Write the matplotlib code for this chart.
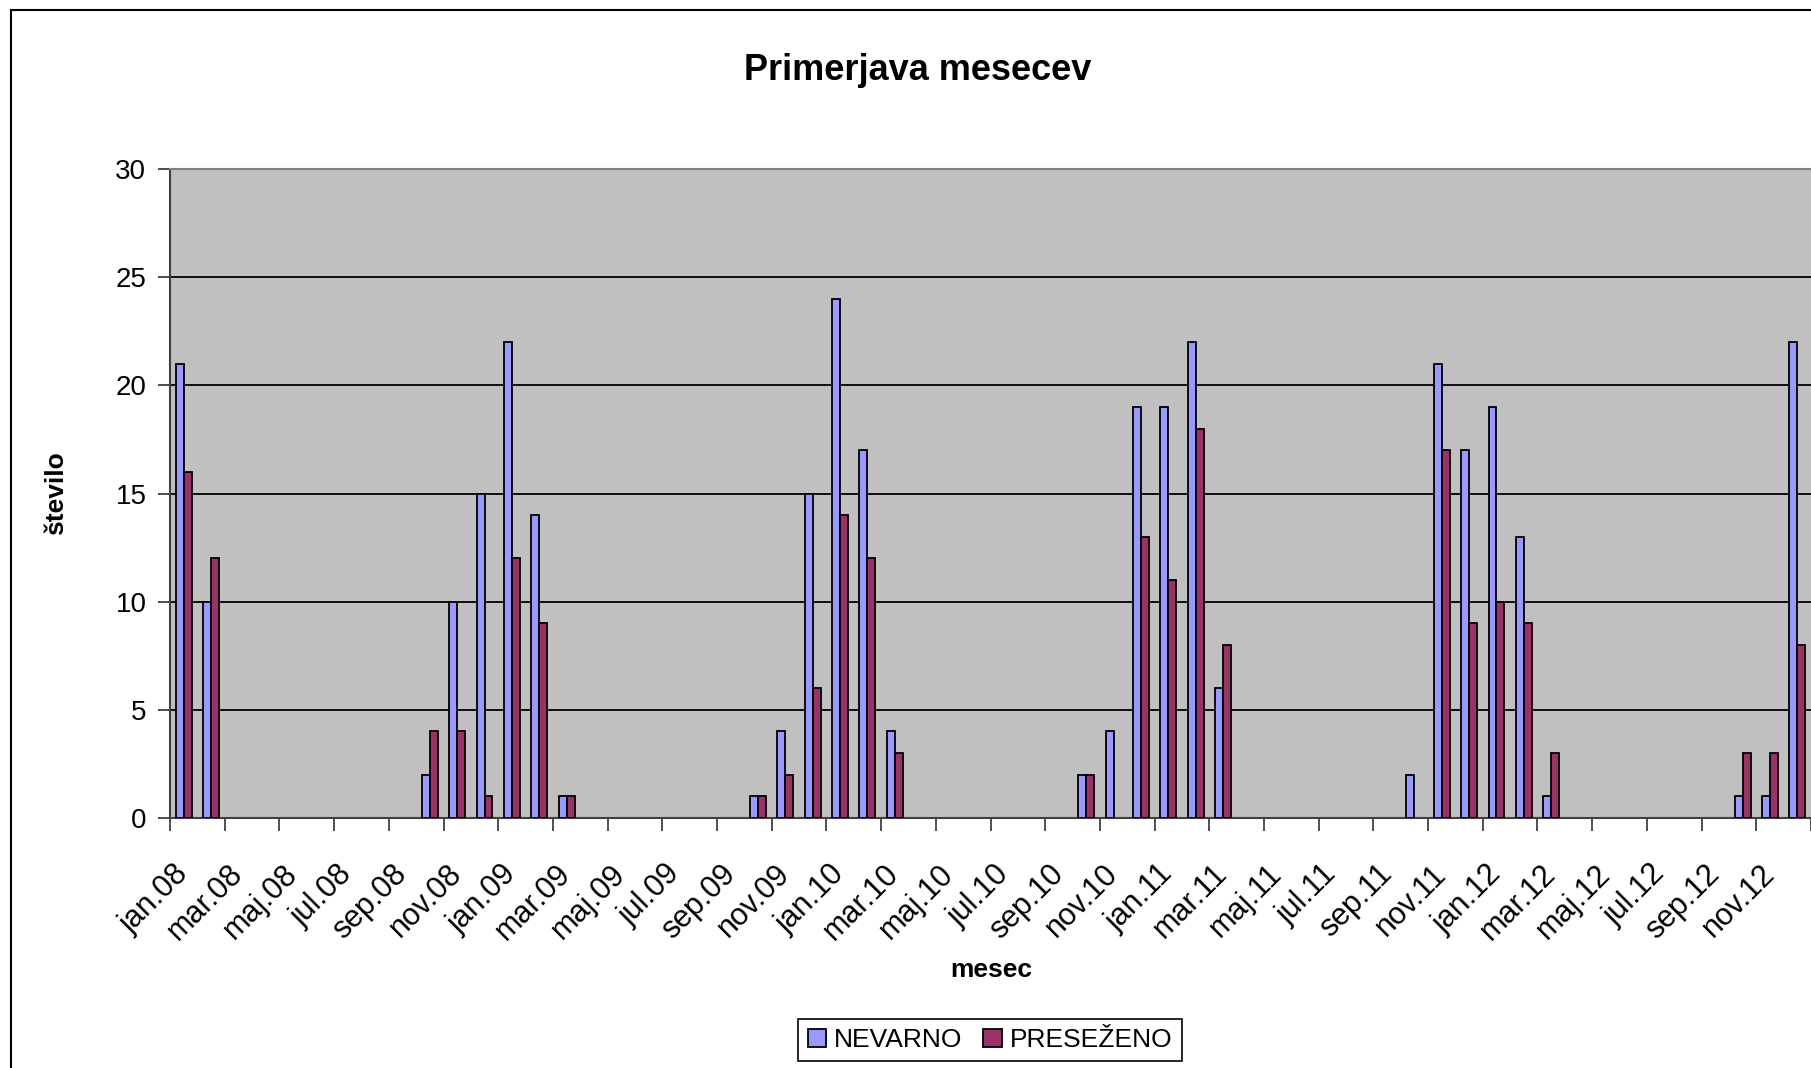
import numpy as np
import matplotlib
matplotlib.use("Agg")
import matplotlib.pyplot as plt
from matplotlib.patches import Rectangle

plt.rcParams['font.family'] = ['Liberation Sans', 'DejaVu Sans']

month_names = ['jan', 'feb', 'mar', 'apr', 'maj', 'jun', 'jul', 'avg', 'sep', 'okt', 'nov', 'dec']
years = ['08', '09', '10', '11', '12']
categories = [f"{m}.{y}" for y in years for m in month_names]

nevarno = [21, 10, 0, 0, 0, 0, 0, 0, 0, 2, 10, 15,
           22, 14, 1, 0, 0, 0, 0, 0, 0, 1, 4, 15,
           24, 17, 4, 0, 0, 0, 0, 0, 0, 2, 4, 19,
           19, 22, 6, 0, 0, 0, 0, 0, 0, 2, 21, 17,
           19, 13, 1, 0, 0, 0, 0, 0, 0, 1, 1, 22]
presezeno = [16, 12, 0, 0, 0, 0, 0, 0, 0, 4, 4, 1,
             12, 9, 1, 0, 0, 0, 0, 0, 0, 1, 2, 6,
             14, 12, 3, 0, 0, 0, 0, 0, 0, 2, 0, 13,
             11, 18, 8, 0, 0, 0, 0, 0, 0, 0, 17, 9,
             10, 9, 3, 0, 0, 0, 0, 0, 0, 3, 3, 8]
series_names = ['NEVARNO', 'PRESEŽENO']
colors = ['#9999FF', '#993366']

W, H = 1811, 1068
fig = plt.figure(figsize=(W / 100, H / 100), dpi=100)
fig.patch.set_facecolor('white')

left, right, top, bottom = 170, 1811, 169, 818
ax = fig.add_axes([left / W, 1 - bottom / H, (right - left) / W, (bottom - top) / H])
ax.set_facecolor('#C0C0C0')

x = np.arange(len(categories))
bw = 0.29
nv = np.array(nevarno, dtype=float)
pr = np.array(presezeno, dtype=float)
nv_plot = np.where(nv == 0, np.nan, nv)
pr_plot = np.where(pr == 0, np.nan, pr)
b1 = ax.bar(x - bw / 2, nv_plot, width=bw, color=colors[0], edgecolor='black', linewidth=1.3, zorder=3, label=series_names[0])
b2 = ax.bar(x + bw / 2, pr_plot, width=bw, color=colors[1], edgecolor='black', linewidth=1.3, zorder=3, label=series_names[1])

ax.set_xlim(-0.5, len(categories) - 0.5)
ax.set_ylim(0, 30)
ax.set_yticks(np.arange(0, 31, 5))
ax.yaxis.grid(True, color='black', linewidth=1.3, zorder=1)
ax.set_axisbelow(True)

ax.set_xticks(x[::2])
ax.set_xticklabels(categories[::2], rotation=45, ha='right', va='center', rotation_mode='anchor', fontsize=22)
ax.set_xticks(np.arange(-0.5, len(categories), 2), minor=True)
ax.tick_params(axis='x', which='major', length=0, pad=37)
ax.tick_params(axis='x', which='minor', length=9, width=1.3, color='#404040')
ax.tick_params(axis='y', length=9, width=1.3, color='#404040', pad=8, labelsize=20)

for s in ['left', 'bottom']:
    ax.spines[s].set_color('#404040')
    ax.spines[s].set_linewidth(1.5)
ax.spines['top'].set_color('#808080')
ax.spines['top'].set_linewidth(1.5)
ax.spines['right'].set_visible(False)

fig.text(918 / W, 1 - 80 / H, 'Primerjava mesecev', ha='center', va='baseline', fontsize=26, fontweight='bold')
fig.text(991 / W, 1 - 977 / H, 'mesec', ha='center', va='baseline', fontsize=19, fontweight='bold')
fig.text(56 / W, 1 - 493 / H, 'število', ha='center', va='center', rotation=90, fontsize=19, fontweight='bold')

leg = fig.legend(handles=[b1, b2], labels=series_names, loc='center', bbox_to_anchor=(990 / W, 1 - 1040 / H),
                 ncol=2, fontsize=19, frameon=True, fancybox=False, edgecolor='black', framealpha=1,
                 handlelength=0.7, handleheight=0.7, handletextpad=0.3, columnspacing=0.8, borderpad=0.35)
leg.get_frame().set_linewidth(1.2)

fig.add_artist(Rectangle((11 / W, -0.5), 2, (1 - 10 / H) + 0.5, transform=fig.transFigure,
                         fill=False, edgecolor='black', linewidth=1.5, clip_on=False))

fig.savefig('out.png', dpi=100, facecolor='white')
